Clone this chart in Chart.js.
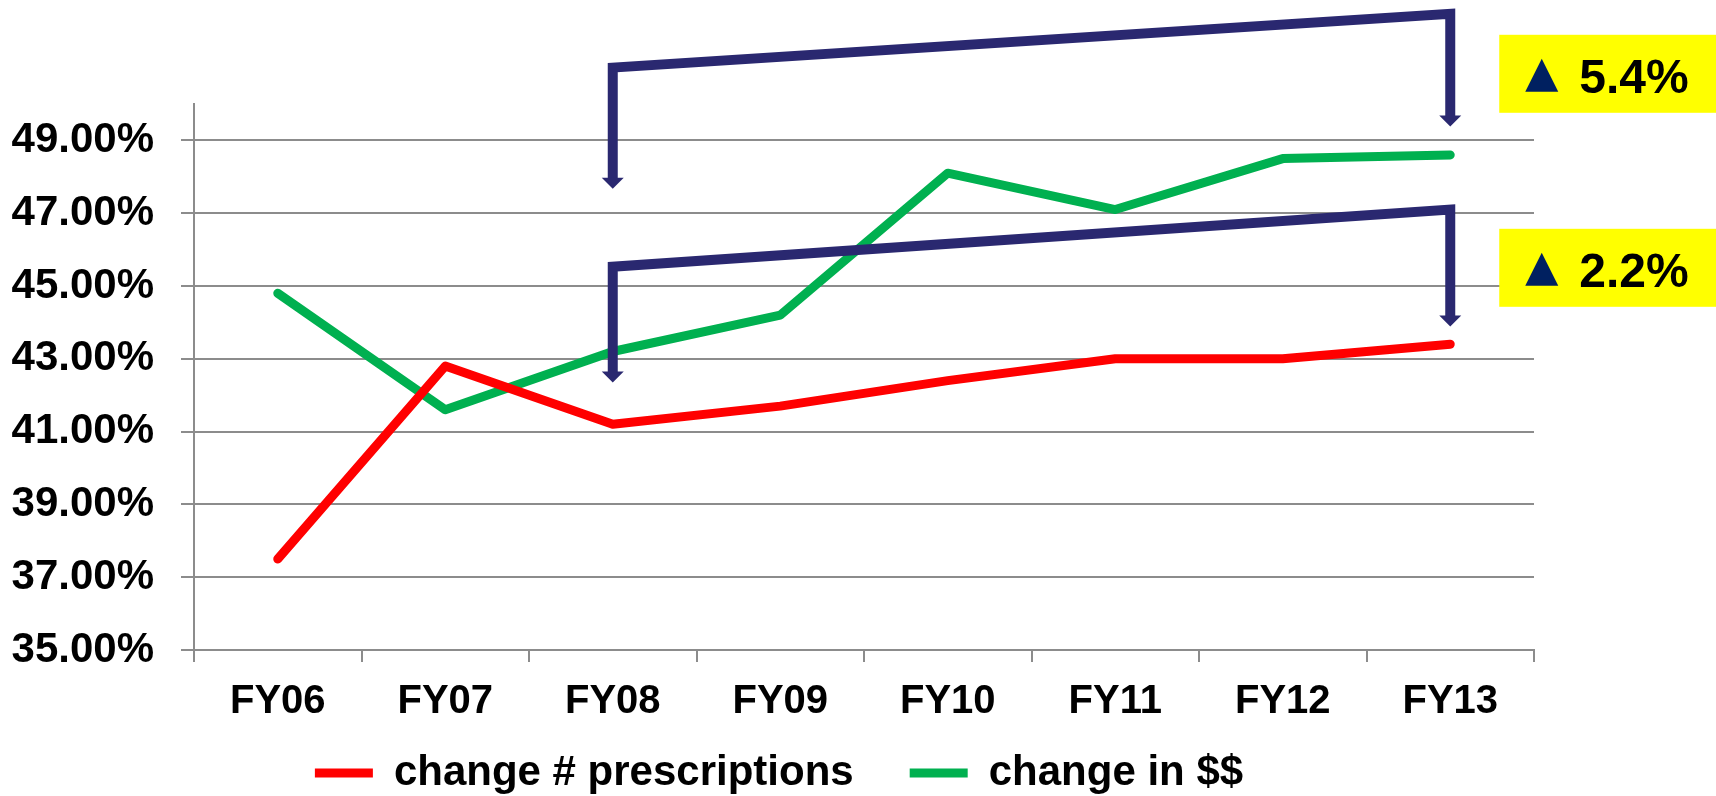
<!DOCTYPE html>
<html>
<head>
<meta charset="utf-8">
<script src="https://cdn.jsdelivr.net/npm/chart.js@4.4.0/dist/chart.umd.min.js"></script>
<style>
  html, body { margin: 0; padding: 0; background: #fff; }
  #wrap { width: 1716px; height: 796px; }
</style>
</head>
<body>
<div id="wrap"><canvas id="myChart"></canvas></div>
<script>
const fiscalYears = ["FY06", "FY07", "FY08", "FY09", "FY10", "FY11", "FY12", "FY13"];
const prescriptionsChange = [37.5, 42.8, 41.2, 41.7, 42.4, 43.0, 43.0, 43.4];
const dollarsChange = [44.8, 41.6, 43.2, 44.2, 48.1, 47.1, 48.5, 48.6];
const yTickValues = [35, 37, 39, 41, 43, 45, 47, 49];

// the two bracket call-outs (in axis units), top one first
const bracketFrom = ["FY08", "FY08"];
const bracketTo = ["FY13", "FY13"];
const bracketStart = [51.0, 45.53];
const bracketEnd = [52.48, 47.1];
const arrowFrom = [47.67, 42.35];
const arrowTo = [49.38, 43.89];
const calloutLevels = [50.83, 45.5];
const increaseLabels = ["5.4%", "2.2%"];

const FONT = '"Liberation Sans", Arial, sans-serif';
const GRID = "#8c8c8c";
const NAVY = "#2a2870";

const bracketPlugin = {
  id: "brackets",
  afterLayout(chart) {
    // pull the legend up a bit, the big item padding pushes it too low
    const lg = chart.legend;
    if (lg) {
      lg.top -= 34;
      lg.bottom -= 34;
      lg.left += 12;
      lg.right += 12;
    }
  },
  afterDatasetsDraw(chart) {
    const ctx = chart.ctx;
    const xs = chart.scales.x;
    const ys = chart.scales.y;
    ctx.save();
    for (let i = 0; i < bracketStart.length; i++) {
      const x1 = xs.getPixelForValue(fiscalYears.indexOf(bracketFrom[i]));
      const x2 = xs.getPixelForValue(fiscalYears.indexOf(bracketTo[i]));
      const y1 = ys.getPixelForValue(bracketStart[i]);
      const y2 = ys.getPixelForValue(bracketEnd[i]);
      const t1 = ys.getPixelForValue(arrowFrom[i]);
      const t2 = ys.getPixelForValue(arrowTo[i]);

      ctx.strokeStyle = NAVY;
      ctx.fillStyle = NAVY;
      ctx.lineWidth = 10;
      ctx.lineJoin = "miter";
      ctx.lineCap = "butt";
      ctx.beginPath();
      ctx.moveTo(x1, t1 - 10);
      ctx.lineTo(x1, y1);
      ctx.lineTo(x2, y2);
      ctx.lineTo(x2, t2 - 10);
      ctx.stroke();

      // arrow heads
      [[x1, t1], [x2, t2]].forEach(([ax, ay]) => {
        ctx.beginPath();
        ctx.moveTo(ax - 11, ay - 11);
        ctx.lineTo(ax + 11, ay - 11);
        ctx.lineTo(ax, ay);
        ctx.closePath();
        ctx.fill();
      });

      // yellow call-out box
      const cy = ys.getPixelForValue(calloutLevels[i]);
      const bx = x2 + 49;
      const bh = 78;
      ctx.fillStyle = "#ffff00";
      ctx.fillRect(bx, cy - bh / 2, chart.width - bx, bh);

      // up triangle
      ctx.fillStyle = "#002060";
      ctx.beginPath();
      ctx.moveTo(bx + 26, cy + 18);
      ctx.lineTo(bx + 59, cy + 18);
      ctx.lineTo(bx + 42.5, cy - 15);
      ctx.closePath();
      ctx.fill();

      ctx.font = "bold 48px " + FONT;
      ctx.fillStyle = "#000";
      ctx.textAlign = "left";
      ctx.textBaseline = "alphabetic";
      ctx.fillText(increaseLabels[i], bx + 80, cy + 19);
    }
    ctx.restore();
  }
};

new Chart(document.getElementById("myChart"), {
  type: "line",
  data: {
    labels: fiscalYears,
    datasets: [
      {
        label: "change # prescriptions",
        data: prescriptionsChange,
        borderColor: "#ff0000",
        backgroundColor: "#ff0000",
        borderWidth: 9,
        borderCapStyle: "round",
        borderJoinStyle: "round",
        pointRadius: 0,
        pointBorderWidth: 9,
        tension: 0,
      },
      {
        label: "change in $$",
        data: dollarsChange,
        borderColor: "#00b050",
        backgroundColor: "#00b050",
        borderWidth: 9,
        borderCapStyle: "round",
        borderJoinStyle: "round",
        pointRadius: 0,
        pointBorderWidth: 9,
        tension: 0,
      },
    ],
  },
  options: {
    responsive: true,
    maintainAspectRatio: false,
    animation: false,
    layout: { padding: { top: 104, right: 182, bottom: -42, left: 0 } },
    plugins: {
      legend: {
        position: "bottom",
        labels: {
          usePointStyle: true,
          pointStyle: "line",
          pointStyleWidth: 58,
          padding: 56,
          color: "#000",
          font: { family: FONT, size: 42, weight: "bold" },
        },
      },
      tooltip: { enabled: false },
    },
    scales: {
      x: {
        offset: true,
        grid: { offset: true, drawOnChartArea: false, tickLength: 12, color: GRID, lineWidth: 2 },
        border: { color: GRID, width: 2 },
        ticks: {
          color: "#000",
          padding: 16,
          autoSkip: false,
          maxRotation: 0,
          font: { family: FONT, size: 40, weight: "bold" },
        },
        afterFit: function (scale) {
          scale.height = 80;
        },
      },
      y: {
        min: 35,
        max: 50,
        afterBuildTicks: function (scale) {
          scale.ticks = yTickValues.map((v) => ({ value: v }));
        },
        grid: { tickLength: 13, color: GRID, lineWidth: 2 },
        border: { color: GRID, width: 2 },
        ticks: {
          color: "#000",
          padding: 27,
          font: { family: FONT, size: 42, weight: "bold" },
          callback: (v) => Number(v).toFixed(2) + "%",
        },
        afterFit: function (scale) {
          scale.width = 194;
        },
      },
    },
  },
  plugins: [bracketPlugin],
});
</script>
</body>
</html>
